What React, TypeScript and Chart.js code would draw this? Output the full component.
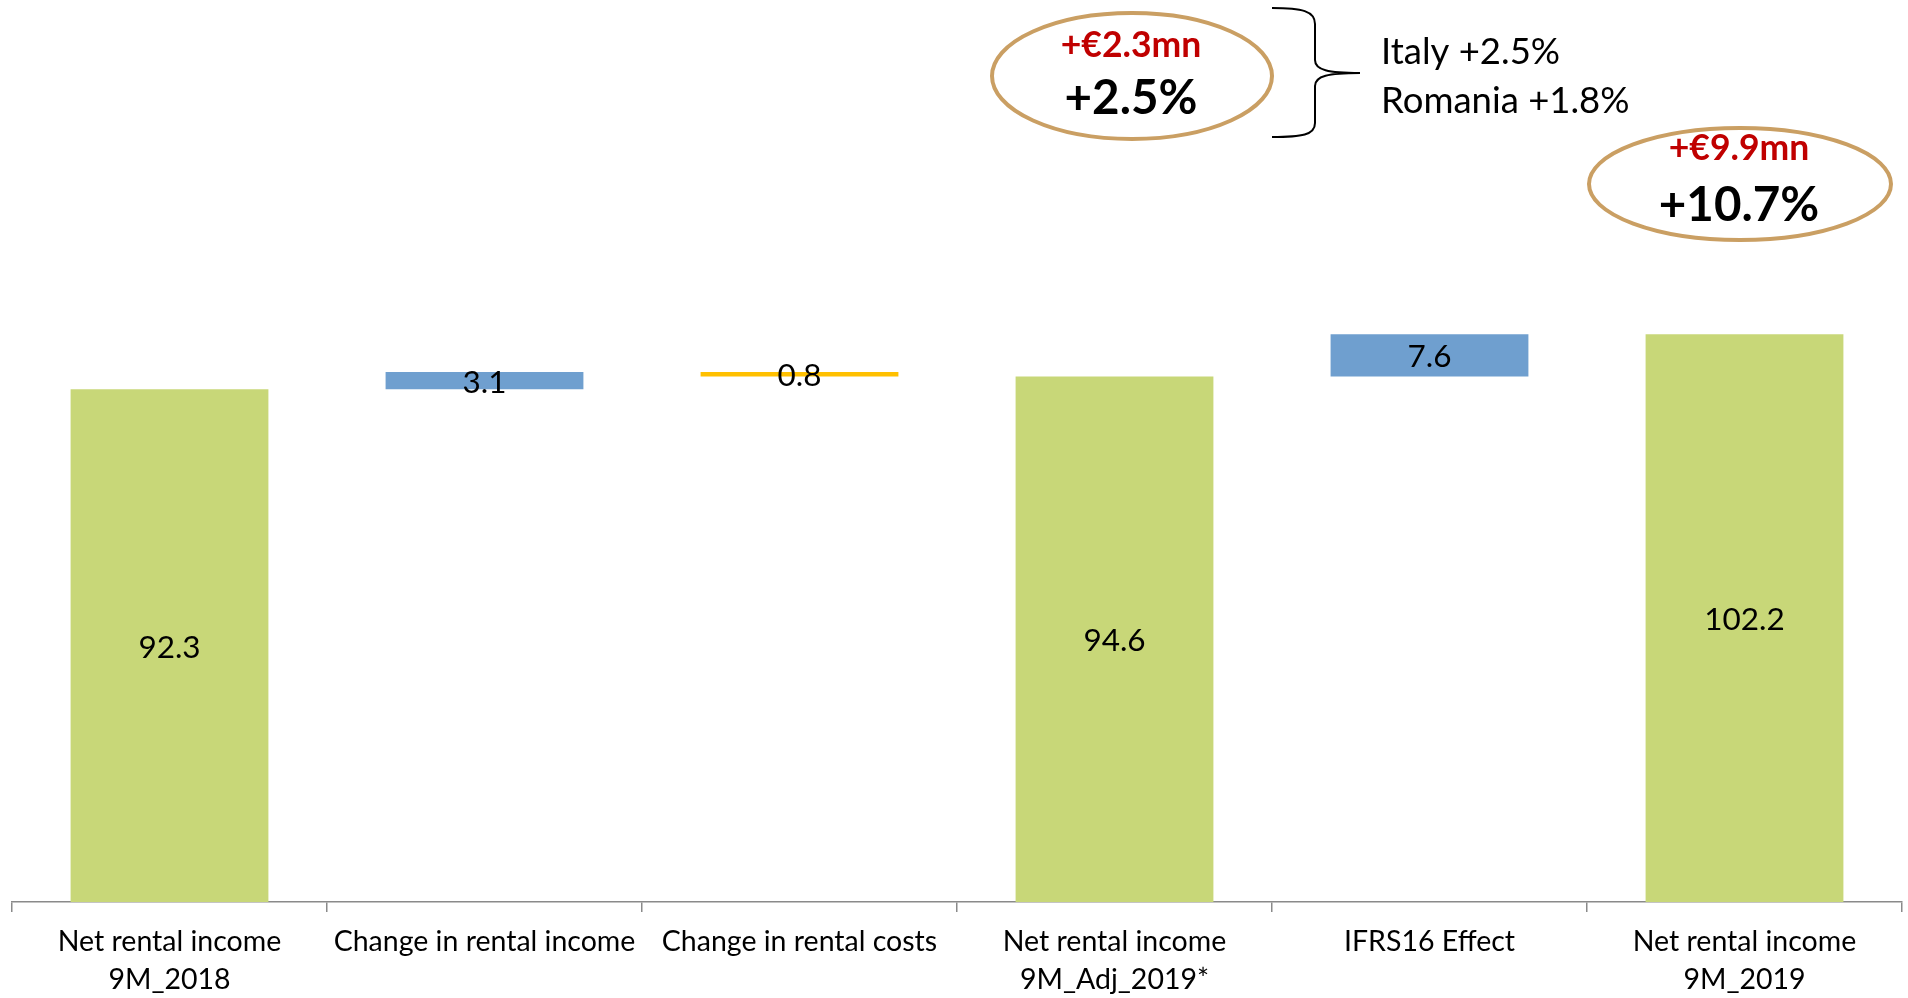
import React, { useEffect, useRef } from "react";
import { Chart, registerables } from "chart.js";

Chart.register(...registerables);

// ---- data ----
const categories: (string | string[])[] = [
  ["Net rental income", "9M_2018"],
  "Change in rental income",
  "Change in rental costs",
  ["Net rental income", "9M_Adj_2019*"],
  "IFRS16 Effect",
  ["Net rental income", "9M_2019"],
];
const values = [92.3, 3.1, -0.8, 94.6, 7.6, 102.2];
const isTotal = [true, false, false, true, false, true];
const valueLabels = ["92.3", "3.1", "0.8", "94.6", "7.6", "102.2"];
const yMin = 0;
const yMax = 160;

const bubbleLeft = ["+€2.3mn", "+2.5%"];
const bubbleRight = ["+€9.9mn", "+10.7%"];
const breakdown = ["Italy +2.5%", "Romania +1.8%"];

// ---- styles ----
const totalColor = "#C8D778";
const upColor = "#6F9FCF";
const downColor = "#FFC000";
const ringColor = "#CA9F63";
const redColor = "#C00000";
const FONT = "Lato, 'Open Sans', sans-serif";

function buildRanges(): [number, number][] {
  let run = 0;
  return values.map((v, i) => {
    if (isTotal[i]) {
      run = v;
      return [0, v] as [number, number];
    }
    const start = run;
    run += v;
    return [start, run] as [number, number];
  });
}

const valueLabelPlugin = {
  id: "valueLabels",
  afterDatasetsDraw(chart: any) {
    const ctx = chart.ctx;
    const meta = chart.getDatasetMeta(0);
    ctx.save();
    ctx.fillStyle = "#000";
    ctx.font = `31.5px ${FONT}`;
    ctx.textAlign = "center";
    ctx.textBaseline = "middle";
    meta.data.forEach((el: any, i: number) => {
      const cy = (el.y + el.base) / 2;
      ctx.fillText(valueLabels[i], el.x, cy + 2);
    });
    ctx.restore();
  },
};

const annotationPlugin = {
  id: "annotations",
  afterDraw(chart: any) {
    const ctx = chart.ctx;
    ctx.save();
    // ellipses
    ctx.strokeStyle = ringColor;
    ctx.lineWidth = 4;
    ctx.beginPath();
    ctx.ellipse(1132, 76, 140, 63, 0, 0, Math.PI * 2);
    ctx.stroke();
    ctx.beginPath();
    ctx.ellipse(1740, 184, 151, 56, 0, 0, Math.PI * 2);
    ctx.stroke();

    ctx.textAlign = "center";
    ctx.textBaseline = "alphabetic";
    ctx.fillStyle = redColor;
    ctx.font = `bold 35.5px ${FONT}`;
    ctx.fillText(bubbleLeft[0], 1131, 57);
    ctx.fillText(bubbleRight[0], 1739, 160);
    ctx.fillStyle = "#000";
    ctx.font = `bold 47.5px ${FONT}`;
    ctx.fillText(bubbleLeft[1], 1131, 114);
    ctx.fillText(bubbleRight[1], 1739, 221);

    // brace
    ctx.strokeStyle = "#000";
    ctx.lineWidth = 2;
    ctx.beginPath();
    ctx.moveTo(1272, 8);
    ctx.bezierCurveTo(1302, 8, 1315, 11, 1315, 24);
    ctx.lineTo(1315, 60);
    ctx.bezierCurveTo(1315, 70, 1328, 73, 1360, 73);
    ctx.moveTo(1360, 73);
    ctx.bezierCurveTo(1328, 73, 1315, 76, 1315, 86);
    ctx.lineTo(1315, 123);
    ctx.bezierCurveTo(1315, 135, 1302, 137, 1272, 137);
    ctx.stroke();

    ctx.textAlign = "left";
    ctx.font = `36.5px ${FONT}`;
    ctx.fillText(breakdown[0], 1381, 64);
    ctx.fillText(breakdown[1], 1381, 113);
    ctx.restore();
  },
};

export default function App() {
  const canvasRef = useRef<HTMLCanvasElement | null>(null);

  useEffect(() => {
    document.body.style.margin = "0";
    let chart: Chart | null = null;
    let cancelled = false;
    const make = () => {
      if (cancelled || !canvasRef.current) return;
      const ranges = buildRanges();
      const colors = values.map((v, i) =>
        isTotal[i] ? totalColor : v >= 0 ? upColor : downColor
      );
      chart = new Chart(canvasRef.current, {
        type: "bar",
        data: {
          labels: categories as any,
          datasets: [
            {
              data: ranges as any,
              backgroundColor: colors,
              borderWidth: 0,
              borderSkipped: false,
              barPercentage: 0.628,
              categoryPercentage: 1,
            },
          ],
        },
        options: {
          animation: false,
          responsive: false,
          devicePixelRatio: 1,
          layout: { padding: { left: 12, right: 6, top: 13, bottom: 0 } },
          plugins: {
            legend: { display: false },
            tooltip: { enabled: false },
          },
          scales: {
            x: {
              grid: {
                offset: true,
                drawOnChartArea: false,
                drawTicks: true,
                tickLength: 10,
                color: "#8A8A8A",
                lineWidth: 1.5,
              },
              border: { display: true, color: "#8A8A8A", width: 1.5 },
              ticks: {
                color: "#000",
                font: { family: FONT, size: 28.5, lineHeight: 1.33 },
                padding: 11,
                maxRotation: 0,
                autoSkip: false,
              },
              afterFit: (s: any) => {
                s.height = 96;
              },
            },
            y: { display: false, min: yMin, max: yMax },
          },
        },
        plugins: [valueLabelPlugin, annotationPlugin],
      });
    };
    const fontsReady = (document as any).fonts
      ? Promise.all([
          (document as any).fonts.load(`28px Lato`),
          (document as any).fonts.load(`bold 28px Lato`),
        ]).catch(() => null)
      : Promise.resolve(null);
    fontsReady.then(make);
    return () => {
      cancelled = true;
      if (chart) chart.destroy();
    };
  }, []);

  return (
    <canvas
      ref={canvasRef}
      width={1908}
      height={998}
      style={{ display: "block", width: 1908, height: 998 }}
    />
  );
}
